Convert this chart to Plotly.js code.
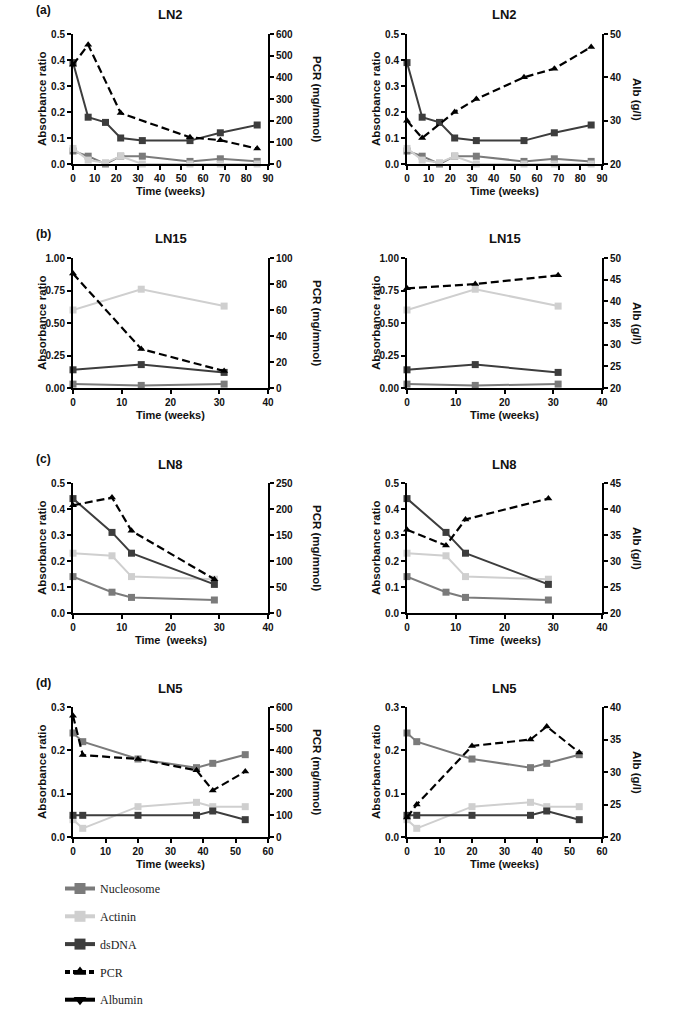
<!DOCTYPE html>
<html>
<head>
<meta charset="utf-8">
<script src="https://cdn.plot.ly/plotly-3.0.1.min.js"></script>
<style>html,body{margin:0;padding:0;background:#fff}#chart{width:685px;height:1009px}</style>
</head>
<body>
<div id="chart"></div>
<script>
// ---- Data ----
const seriesNames = ["Nucleosome", "Actinin", "dsDNA", "PCR", "Albumin"];
const panelLabels = ["(a)", "(b)", "(c)", "(d)"];
const patients = ["LN2", "LN15", "LN8", "LN5"];

// LN2
const LN2_weeks = [0, 7, 15, 22, 32, 54, 68, 85];
const LN2_nucleosome = [0.05, 0.03, 0.00, 0.03, 0.03, 0.01, 0.02, 0.01];
const LN2_actinin = [0.06, 0.015, 0.005, 0.03, 0.00, 0.00, 0.00, 0.00];
const LN2_dsDNA = [0.39, 0.18, 0.16, 0.10, 0.09, 0.09, 0.12, 0.15];
const LN2_pcrWeeks = [0, 7, 22, 54, 68, 85];
const LN2_pcr = [458, 550, 235, 123, 110, 71];
const LN2_albWeeks = [0, 7, 22, 32, 54, 68, 85];
const LN2_alb = [30, 26, 32, 35, 40, 42, 47];

// LN15
const LN15_weeks = [0, 14, 31];
const LN15_nucleosome = [0.03, 0.02, 0.03];
const LN15_actinin = [0.60, 0.76, 0.63];
const LN15_dsDNA = [0.14, 0.18, 0.12];
const LN15_pcr = [88, 30, 13];
const LN15_alb = [43, 44, 46];

// LN8
const LN8_weeks = [0, 8, 12, 29];
const LN8_nucleosome = [0.14, 0.08, 0.06, 0.05];
const LN8_actinin = [0.23, 0.22, 0.14, 0.13];
const LN8_dsDNA = [0.44, 0.31, 0.23, 0.11];
const LN8_pcr = [207, 222, 158, 65];
const LN8_alb = [36, 33, 38, 42];

// LN5
const LN5_weeks = [0, 3, 20, 38, 43, 53];
const LN5_nucleosome = [0.24, 0.22, 0.18, 0.16, 0.17, 0.19];
const LN5_actinin = [0.04, 0.02, 0.07, 0.08, 0.07, 0.07];
const LN5_dsDNA = [0.05, 0.05, 0.05, 0.05, 0.06, 0.04];
const LN5_pcr = [560, 378, 360, 308, 215, 302];
const LN5_alb = [23, 25, 34, 35, 37, 33];

// Axis ranges / ticks
const xRanges = [[0, 90], [0, 40], [0, 40], [0, 60]];
const absRanges = [[0, 0.5], [0, 1], [0, 0.5], [0, 0.3]];
const absDticks = [0.1, 0.25, 0.1, 0.1];
const absFormats = [".1f", ".2f", ".1f", ".1f"];
const pcrRanges = [[0, 600], [0, 100], [0, 250], [0, 600]];
const pcrDticks = [100, 20, 50, 100];
const albRanges = [[20, 50], [20, 50], [20, 45], [20, 40]];
const albDticks = [10, 5, 5, 5];
const xTitles = ["Time (weeks)", "Time (weeks)", "Time  (weeks)", "Time (weeks)"];

const rows = [
  {abs: {x: LN2_weeks, nuc: LN2_nucleosome, act: LN2_actinin, ds: LN2_dsDNA}, pcr: {x: LN2_pcrWeeks, y: LN2_pcr}, alb: {x: LN2_albWeeks, y: LN2_alb}},
  {abs: {x: LN15_weeks, nuc: LN15_nucleosome, act: LN15_actinin, ds: LN15_dsDNA}, pcr: {x: LN15_weeks, y: LN15_pcr}, alb: {x: LN15_weeks, y: LN15_alb}},
  {abs: {x: LN8_weeks, nuc: LN8_nucleosome, act: LN8_actinin, ds: LN8_dsDNA}, pcr: {x: LN8_weeks, y: LN8_pcr}, alb: {x: LN8_weeks, y: LN8_alb}},
  {abs: {x: LN5_weeks, nuc: LN5_nucleosome, act: LN5_actinin, ds: LN5_dsDNA}, pcr: {x: LN5_weeks, y: LN5_pcr}, alb: {x: LN5_weeks, y: LN5_alb}}
];

// ---- Styles ----
const W = 685, H = 1009;
const COL = {nuc: "#7b7b7b", act: "#cfcfcf", ds: "#3d3d3d", blk: "#000000"};
const FONT = "Liberation Sans, Arial, sans-serif";
const colPx = [[73, 268], [407, 602]];
const rowPx = [[34, 164], [258, 388], [483, 613], [707, 837]];
const rightTitleOffset = [49, 35];
const px = v => v / W, py = v => 1 - v / H;

const data = [];
const layout = {
  width: W, height: H,
  margin: {l: 0, r: 0, t: 0, b: 0, autoexpand: false},
  paper_bgcolor: "#fff", plot_bgcolor: "rgba(0,0,0,0)",
  showlegend: true,
  legend: {
    xref: "container", yref: "container",
    x: px(60), y: py(874), xanchor: "left", yanchor: "top",
    font: {family: "Liberation Serif, Times New Roman, serif", size: 12, color: "#222"},
    tracegroupgap: 8.8, itemwidth: 30, bgcolor: "rgba(0,0,0,0)"
  },
  annotations: []
};

const axisCommon = {
  showline: true, linewidth: 2, linecolor: "#000", ticks: "outside", ticklen: 4, tickwidth: 2,
  tickcolor: "#000", showgrid: false, zeroline: false, fixedrange: true, automargin: false,
  tickfont: {family: FONT, size: 10, color: "#111", weight: "bold"}
};

function ann(text, x, y, opts) {
  layout.annotations.push(Object.assign({
    text: text, x: px(x), y: py(y), xref: "paper", yref: "paper", showarrow: false,
    xanchor: "center", yanchor: "middle",
    font: {family: FONT, size: 11, color: "#111", weight: "bold"}
  }, opts || {}));
}

let p = 0;
for (let r = 0; r < 4; r++) {
  for (let c = 0; c < 2; c++) {
    p++;
    const xid = "x" + (p === 1 ? "" : p);
    const yid = "y" + (p === 1 ? "" : p);
    const y2id = "y" + (p + 8);
    const xKey = "xaxis" + (p === 1 ? "" : p);
    const yKey = "yaxis" + (p === 1 ? "" : p);
    const y2Key = "yaxis" + (p + 8);
    const d = rows[r];
    const isPCR = c === 0;

    layout[xKey] = Object.assign({}, axisCommon, {
      domain: [px(colPx[c][0]), px(colPx[c][1])], range: xRanges[r], dtick: 10, tick0: 0, anchor: yid
    });
    layout[yKey] = Object.assign({}, axisCommon, {
      domain: [py(rowPx[r][1]), py(rowPx[r][0])], range: absRanges[r], dtick: absDticks[r], tick0: 0,
      tickformat: absFormats[r], anchor: xid
    });
    layout[y2Key] = Object.assign({}, axisCommon, {
      overlaying: yid, side: "right", anchor: xid,
      range: isPCR ? pcrRanges[r] : albRanges[r],
      dtick: isPCR ? pcrDticks[r] : albDticks[r],
      tick0: isPCR ? 0 : 20
    });

    const sq = (col) => ({color: col, symbol: "square", size: 7});
    data.push({x: d.abs.x, y: d.abs.nuc, xaxis: xid, yaxis: yid, mode: "lines+markers", showlegend: false,
      line: {color: COL.nuc, width: 2}, marker: sq(COL.nuc), cliponaxis: false});
    data.push({x: d.abs.x, y: d.abs.act, xaxis: xid, yaxis: yid, mode: "lines+markers", showlegend: false,
      line: {color: COL.act, width: 2}, marker: sq(COL.act), cliponaxis: false});
    data.push({x: d.abs.x, y: d.abs.ds, xaxis: xid, yaxis: yid, mode: "lines+markers", showlegend: false,
      line: {color: COL.ds, width: 2}, marker: sq(COL.ds), cliponaxis: false});
    const s = isPCR ? d.pcr : d.alb;
    data.push({x: s.x, y: s.y, xaxis: xid, yaxis: y2id, mode: "lines+markers", showlegend: false,
      line: {color: COL.blk, width: 2.2, dash: "8px,4px"},
      marker: {color: COL.blk, symbol: "triangle-up", size: 7}, cliponaxis: false});

    const cx = (colPx[c][0] + colPx[c][1]) / 2;
    ann(patients[r], cx, rowPx[r][0] - 19, {font: {family: FONT, size: 13, color: "#111", weight: "bold"}});
    ann(xTitles[r], cx, rowPx[r][1] + 27);
    ann("Absorbance ratio", colPx[c][0] - 31, (rowPx[r][0] + rowPx[r][1]) / 2, {textangle: -90, font: {family: FONT, size: 11.5, color: "#111", weight: "bold"}});
    ann(isPCR ? "PCR (mg/mmol)" : "Alb (g/l)", colPx[c][1] + rightTitleOffset[c], (rowPx[r][0] + rowPx[r][1]) / 2, {textangle: 90, font: {family: FONT, size: 11.5, color: "#111", weight: "bold"}});
    if (c === 0) ann(panelLabels[r], 43, rowPx[r][0] - 24, {font: {family: FONT, size: 12, color: "#111", weight: "bold"}});
  }
}

// Legend entries (legend-only traces)
const legendStyles = [
  {line: {color: COL.nuc, width: 4}, marker: {color: COL.nuc, symbol: "square", size: 11}},
  {line: {color: COL.act, width: 4}, marker: {color: COL.act, symbol: "square", size: 11}},
  {line: {color: COL.ds, width: 4}, marker: {color: COL.ds, symbol: "square", size: 11}},
  {line: {color: COL.blk, width: 4, dash: "5px,3px"}, marker: {color: COL.blk, symbol: "triangle-up", size: 11}},
  {line: {color: COL.blk, width: 4}, marker: {color: COL.blk, symbol: "triangle-down", size: 11}}
];
seriesNames.forEach((n, i) => {
  data.push(Object.assign({x: [null], y: [null], name: n, mode: "lines+markers", xaxis: "x", yaxis: "y",
    legendgroup: "g" + i, showlegend: true}, legendStyles[i]));
});

Plotly.newPlot("chart", data, layout, {staticPlot: true, displayModeBar: false});
</script>
</body>
</html>
